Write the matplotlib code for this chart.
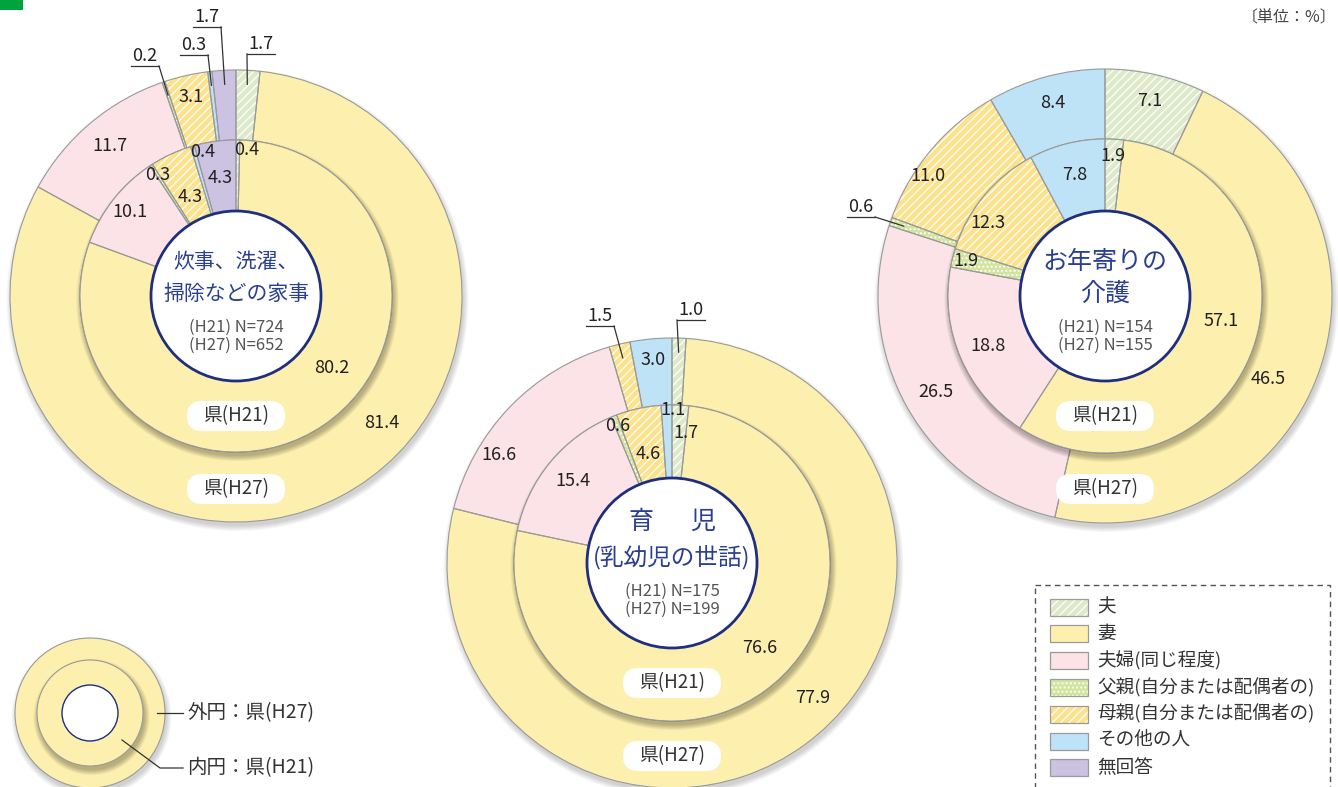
import numpy as np
import matplotlib
matplotlib.use('Agg')
import matplotlib.pyplot as plt
from matplotlib.patches import Wedge, Circle, Rectangle, FancyBboxPatch

plt.rcParams['font.family'] = ['Noto Sans CJK JP', 'DejaVu Sans']
plt.rcParams['hatch.linewidth'] = 0.9

# ---------------------------------------------------------
# data: 外円 = 県(H27), 内円 = 県(H21)  [単位: %]
# ---------------------------------------------------------
categories = ['夫', '妻', '夫婦(同じ程度)', '父親(自分または配偶者の)',
              '母親(自分または配偶者の)', 'その他の人', '無回答']

kaji_h27 = [1.7, 81.4, 11.7, 0.2, 3.1, 0.3, 1.7]
kaji_h21 = [0.4, 80.2, 10.1, 0.3, 4.3, 0.4, 4.3]
ikuji_h27 = [1.0, 77.9, 16.6, 0.0, 1.5, 3.0, 0.0]
ikuji_h21 = [1.7, 76.6, 15.4, 0.6, 4.6, 1.1, 0.0]
kaigo_h27 = [7.1, 46.5, 26.5, 0.6, 11.0, 8.4, 0.0]
kaigo_h21 = [1.9, 57.1, 18.8, 1.9, 12.3, 7.8, 0.0]

titles = [['炊事、洗濯、', '掃除などの家事'], ['育　児', '(乳幼児の世話)'], ['お年寄りの', '介護']]
n_h21 = [724, 175, 154]
n_h27 = [652, 199, 155]

colors = ['#dde9c8', '#fdf0ae', '#fbe3e7', '#d2e59f', '#fde28c', '#bfe3f6', '#cbc3e1']
hatches = ['////', None, None, '....', '////', None, None]

EDGE = '#9a9a9a'
TXT = '#231f20'
NAVY = '#1f2f80'
TITLE = '#2b3f92'
NUM = 13

# layout of each donut: centre, radii, label placement (radius, angle override)
charts = [
    dict(c=(236, 296), ro=226, ri=156, rc=85, outer=kaji_h27, inner=kaji_h21, tsize=15,
         olab=[None, (193, 131), (196, None), None, (204, None), None, None],
         ilab=[(146, 4.3), (120, 127), (135, None), (144, None), (109, None), (148, 347), (119, None)],
         call=[(3, 145, 66, 'r'), (5, 194, 55, 'r'), (6, 207, 27, 'r'), (0, 261, 54, 'l')]),
    dict(c=(672, 563), ro=225, ri=158, rc=85, outer=ikuji_h27, inner=ikuji_h21, tsize=17,
         olab=[None, (195, 134), (204, 302), None, None, (204, None), None],
         ilab=[(131, 6), (122, 134), (128, None), (147, None), (112, None), (153, 0.4), None],
         call=[(4, 600, 326, 'r'), (0, 691, 320, 'l')]),
    dict(c=(1105, 296), ro=227, ri=157, rc=85, outer=kaigo_h27, inner=kaigo_h21, tsize=18,
         olab=[(200, None), (183, 117), (195, None), None, (214, 304), (200, None), None],
         ilab=[(140, None), (119, 102), (127, None), (143, None), (138, 302), (125, None), None],
         call=[(3, 861, 217, 'r')]),
]

fig = plt.figure(figsize=(13.38, 7.87), dpi=100)
ax = fig.add_axes([0, 0, 1, 1])
ax.set_xlim(0, 1338)
ax.set_ylim(787, 0)
ax.axis('off')


def pos(c, a, r):
    t = np.deg2rad(a)
    return c[0] + r * np.sin(t), c[1] - r * np.cos(t)


def shadow(c, r, z, n=6, alpha=0.05, dx=1.5, dy=4):
    for k in range(n):
        ax.add_patch(Circle((c[0] + dx, c[1] + dy), r + k, fc='black', ec='none',
                            alpha=alpha, zorder=z))


def ring(c, r, width, vals, z):
    total = sum(vals)
    cum = 0.0
    mids = []
    for i, v in enumerate(vals):
        f0, f1 = cum / total, (cum + v) / total
        mids.append(180 * (f0 + f1))
        cum += v
        if v <= 0:
            continue
        t1, t2 = 360 * f0 - 90, 360 * f1 - 90
        h = hatches[i]
        ax.add_patch(Wedge(c, r, t1, t2, width=width, fc=colors[i],
                           ec='white' if h else 'none', lw=0, hatch=h, zorder=z))
        ax.add_patch(Wedge(c, r, t1, t2, width=width, fill=False, ec=EDGE, lw=0.8, zorder=z + 0.1))
    return mids


def labels(c, vals, mids, spec):
    for v, m, s in zip(vals, mids, spec):
        if s is None or v <= 0:
            continue
        r, a = s
        x, y = pos(c, m if a is None else a, r)
        ax.text(x, y, f'{v:.1f}', ha='center', va='center', fontsize=NUM, color=TXT, zorder=8)


def pill(x, y, s):
    ax.add_patch(FancyBboxPatch((x - 49, y - 15), 98, 30,
                                boxstyle='round,pad=0,rounding_size=15',
                                fc='white', ec='none', zorder=7))
    ax.text(x, y, s, ha='center', va='center', fontsize=13.5, color='#333333', zorder=8)


for k, ch in enumerate(charts):
    c = ch['c']
    shadow(c, ch['ro'], 1, alpha=0.03)
    om = ring(c, ch['ro'], ch['ro'] - ch['ri'], ch['outer'], 2)
    shadow(c, ch['ri'], 3)
    im = ring(c, ch['ri'], ch['ri'] - ch['rc'], ch['inner'], 4)
    ax.add_patch(Circle(c, ch['rc'], fc='white', ec=NAVY, lw=2.0, zorder=6))

    labels(c, ch['outer'], om, ch['olab'])
    labels(c, ch['inner'], im, ch['ilab'])

    # callouts for thin slices
    for idx, ux, uy, side in ch['call']:
        axx, ayy = pos(c, om[idx], ch['ro'] - 14)
        end = ux + 14 if side == 'r' else ux - 14
        ax.plot([ux - 14, ux + 14], [uy, uy], color='#333333', lw=0.9, zorder=8)
        ax.plot([end, axx], [uy, ayy], color='#333333', lw=0.9, zorder=8)
        ax.text(ux, uy - 1, f'{ch["outer"][idx]:.1f}', ha='center', va='bottom',
                fontsize=NUM, color=TXT, zorder=8)

    # centre title
    cx, cy = c
    t1, t2 = titles[k]
    if k == 1:
        ax.text(cx - 31, cy - 41, '育', ha='center', va='center', fontsize=18, color=TITLE, zorder=8)
        ax.text(cx + 31, cy - 41, '児', ha='center', va='center', fontsize=18, color=TITLE, zorder=8)
        ax.text(cx, cy - 6, t2, ha='center', va='center', fontsize=ch['tsize'], color=TITLE, zorder=8)
    else:
        ax.text(cx, cy - 34, t1, ha='center', va='center', fontsize=ch['tsize'], color=TITLE, zorder=8)
        ax.text(cx, cy - 2, t2, ha='center', va='center', fontsize=ch['tsize'], color=TITLE, zorder=8)
    dn = 28 if k == 1 else 31
    ax.text(cx, cy + dn, f'(H21) N={n_h21[k]}', ha='center', va='center', fontsize=12,
            color='#555555', zorder=8)
    ax.text(cx, cy + dn + 18, f'(H27) N={n_h27[k]}', ha='center', va='center', fontsize=12,
            color='#555555', zorder=8)

    pill(cx, cy + 120, '県(H21)')
    pill(cx, cy + 193, '県(H27)')

# legend box
ax.add_patch(Rectangle((1035, 585), 295, 215, fill=False, ec='#555555', lw=1.0,
                       ls=(0, (4, 3)), zorder=5))
for i, name in enumerate(categories):
    y = 607 + i * 26.8
    h = hatches[i]
    ax.add_patch(Rectangle((1050, y - 8.5), 38, 17, fc=colors[i], ec='white' if h else 'none',
                           lw=0, hatch=h, zorder=6))
    ax.add_patch(Rectangle((1050, y - 8.5), 38, 17, fill=False, ec=EDGE, lw=0.9, zorder=6.1))
    ax.text(1097, y, name, ha='left', va='center', fontsize=13.4, color='#333333', zorder=8)

# small key for rings
kc = (90, 713)
shadow(kc, 75, 1, alpha=0.03)
ax.add_patch(Circle(kc, 75, fc=colors[1], ec=EDGE, lw=0.8, zorder=2))
shadow(kc, 53, 3)
ax.add_patch(Circle(kc, 53, fc=colors[1], ec=EDGE, lw=0.8, zorder=4))
ax.add_patch(Circle(kc, 28, fc='white', ec=NAVY, lw=1.0, zorder=6))
ax.plot([157, 183], [713, 713], color='#333333', lw=0.9, zorder=8)
ax.plot([122, 160, 183], [740, 768, 768], color='#333333', lw=0.9, zorder=8)
ax.text(187, 713, '外円：県(H27)', ha='left', va='center', fontsize=14, color='#333333')
ax.text(187, 768, '内円：県(H21)', ha='left', va='center', fontsize=14, color='#333333')

# header bits
ax.add_patch(Rectangle((0, 0), 23, 10, fc='#00a33e', ec='none'))
ax.text(1336, 18, '〔単位：%〕', ha='right', va='center', fontsize=11.5, color='#444444')

fig.savefig('out.png', dpi=100)
